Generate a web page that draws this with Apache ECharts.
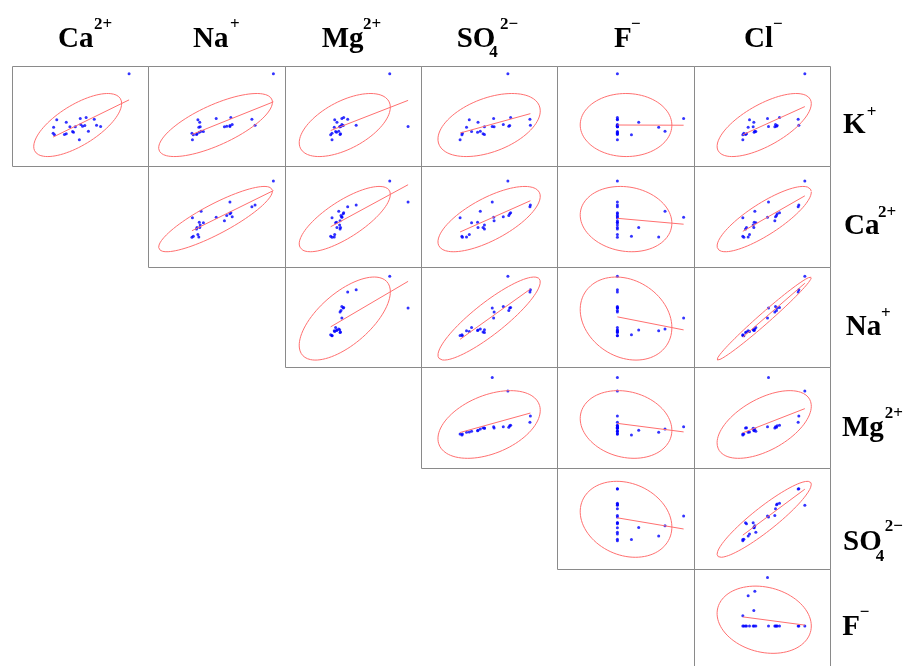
<!DOCTYPE html>
<html>
<head>
<meta charset="utf-8">
<script src="https://cdn.jsdelivr.net/npm/echarts@6/dist/echarts.min.js"></script>
<style>
  html, body { margin: 0; padding: 0; background: #fff; overflow: hidden; }
  #chart { width: 913px; height: 670px; }
</style>
</head>
<body>
<div id="chart"></div>
<script>
// 22 water samples, one value per ion (no axis units shown)
const K   = [21.0, 5.6, 7.4, 7.9, 5.5, 5.3, 5.8, 5.1, 5.2, 7.6, 3.7, 3.8, 3.5, 6.5, 5.1, 7.2, 5.0, 3.0, 2.8, 3.2, 2.7, 1.2];
const Ca  = [92.5, 56.5, 54, 45, 43.5, 41, 39, 33, 61, 38.5, 30, 47.5, 31, 23, 27, 12.5, 9, 23, 21, 8.5, 10, 37.5];
const Na  = [190, 150, 143, 97, 95, 88, 100, 83, 95, 65, 37, 32, 28, 29, 30, 25, 27, 23, 22, 12, 15, 13];
const Mg  = [72, 34.5, 25, 20.5, 20, 17.5, 18.5, 16.5, 92.5, 18.5, 11.5, 15, 12.5, 13, 16, 10.5, 10, 17, 16.5, 7.5, 6, 7.5];
const SO4 = [114, 163, 162, 120, 118, 116, 104, 84, 80, 83, 35, 54, 48, 49, 63, 30, 24, 60, 63, 15, 14, 10];
const F   = [0.1, 0.1, 0.1, 0.1, 0.1, 0.1, 0.1, 0.1, 0.1, 1.56, 0.1, 1.15, 0.1, 0.57, 0.1, 0.1, 1.01, 0.1, 0.1, 0.1, 0.41, 0.1];
const Cl  = [211, 193, 191, 135, 128, 126, 123, 121, 102, 99, 64, 61, 59, 58, 56, 45, 41, 36, 33, 28, 25, 25];

// axis ranges per ion
const rangeK = [-6.8, 23.2];
const rangeCa = [-36.5, 114];
const rangeNa = [-83, 216.5];
const rangeMg = [-44.5, 107.5];
const rangeSO4 = [-74, 222];
const rangeF = [-1.22, 1.8];
const rangeCl = [-120, 288];

// rows = y variable, columns = x variable
const rowVars = [K, Ca, Na, Mg, SO4, F];
const colVars = [Ca, Na, Mg, SO4, F, Cl];
const rowRanges = [rangeK, rangeCa, rangeNa, rangeMg, rangeSO4, rangeF];
const colRanges = [rangeCa, rangeNa, rangeMg, rangeSO4, rangeF, rangeCl];

// labels: [main, subscript, superscript]
const colLabels = [['Ca', '', '2+'], ['Na', '', '+'], ['Mg', '', '2+'], ['SO', '4', '2\u2212'], ['F', '', '\u2212'], ['Cl', '', '\u2212']];
const rowLabels = [['K', '', '+'], ['Ca', '', '2+'], ['Na', '', '+'], ['Mg', '', '2+'], ['SO', '4', '2\u2212'], ['F', '', '\u2212']];

const CHI2_95 = 5.991;

// layout
const colEdges = [12, 148, 285, 421, 557, 694, 830];
const rowEdges = [66, 166, 267, 367, 468, 569, 670];
const CHART_W = 913, CHART_H = 670;

function stats(xs, ys) {
  const n = xs.length;
  let mx = 0, my = 0;
  for (let i = 0; i < n; i++) { mx += xs[i]; my += ys[i]; }
  mx /= n; my /= n;
  let sxx = 0, syy = 0, sxy = 0;
  for (let i = 0; i < n; i++) {
    const dx = xs[i] - mx, dy = ys[i] - my;
    sxx += dx * dx; syy += dy * dy; sxy += dx * dy;
  }
  return { mx, my, sxx: sxx / (n - 1), syy: syy / (n - 1), sxy: sxy / (n - 1) };
}

// 95% ellipse from the sample covariance
function ellipsePoints(s) {
  const T = s.sxx + s.syy, D = s.sxx * s.syy - s.sxy * s.sxy;
  const r = Math.sqrt(Math.max(T * T / 4 - D, 0));
  const l1 = T / 2 + r, l2 = Math.max(T / 2 - r, 0);
  const th = 0.5 * Math.atan2(2 * s.sxy, s.sxx - s.syy);
  const a = Math.sqrt(CHI2_95 * l1), b = Math.sqrt(CHI2_95 * l2);
  const pts = [];
  for (let k = 0; k <= 180; k++) {
    const t = k / 180 * Math.PI * 2;
    const u = a * Math.cos(t), v = b * Math.sin(t);
    pts.push([s.mx + u * Math.cos(th) - v * Math.sin(th), s.my + u * Math.sin(th) + v * Math.cos(th)]);
  }
  return pts;
}

// least squares line y on x, drawn over the data's x span
function fitLine(xs, ys, s) {
  const b = s.sxy / s.sxx, a = s.my - b * s.mx;
  const x0 = Math.min(...xs), x1 = Math.max(...xs);
  return [[x0, a + b * x0], [x1, a + b * x1]];
}

const grids = [], xAxes = [], yAxes = [], series = [];
let g = 0;
for (let i = 0; i < 6; i++) {
  for (let j = i; j < 6; j++) {
    const xs = colVars[j], ys = rowVars[i];
    grids.push({
      left: colEdges[j] + 0.5, top: rowEdges[i] + 0.5,
      width: colEdges[j + 1] - colEdges[j], height: rowEdges[i + 1] - rowEdges[i],
      show: true, borderColor: '#8a8a8a', borderWidth: 1, backgroundColor: 'transparent'
    });
    xAxes.push({ gridIndex: g, type: 'value', min: colRanges[j][0], max: colRanges[j][1], show: false });
    yAxes.push({ gridIndex: g, type: 'value', min: rowRanges[i][0], max: rowRanges[i][1], show: false });
    const s = stats(xs, ys);
    series.push({
      type: 'line', xAxisIndex: g, yAxisIndex: g, data: ellipsePoints(s),
      showSymbol: false, symbol: 'none', smooth: false, silent: true,
      lineStyle: { color: '#ff7070', width: 1 }
    });
    series.push({
      type: 'line', xAxisIndex: g, yAxisIndex: g, data: fitLine(xs, ys, s),
      showSymbol: false, symbol: 'none', silent: true,
      lineStyle: { color: '#ff7070', width: 1 }
    });
    series.push({
      type: 'scatter', xAxisIndex: g, yAxisIndex: g,
      data: xs.map((x, k) => [x, ys[k]]),
      symbolSize: 3, itemStyle: { color: '#0000ff' }
    });
    g++;
  }
}

// formula-style labels built from text pieces
const FONT = '"Liberation Serif", "Times New Roman", serif';
function piece(text, x, baseline, size) {
  return {
    type: 'text', x: x, y: baseline - 0.34 * size, silent: true,
    style: { text: text, font: 'bold ' + size + 'px ' + FONT, fill: '#000', align: 'left', verticalAlign: 'middle' }
  };
}
const graphics = [];
// column headers: [main x, sub x, sup x]
const colPos = [[58, 0, 94], [193, 0, 230], [321.7, 0, 363], [456.7, 489.3, 500], [614, 0, 631], [744, 0, 773]];
colLabels.forEach((lb, j) => {
  const p = colPos[j];
  graphics.push(piece(lb[0], p[0], 49, 29));
  if (lb[1]) graphics.push(piece(lb[1], p[1], 58, 17));
  graphics.push(piece(lb[2], p[2], 30, 17));
});
// row labels: [main x, main baseline, sub x, sup x, sup baseline]
const rowPos = [[843, 135, 0, 866.7, 118], [844, 236.7, 0, 878, 218], [845.7, 337, 0, 881, 319],
                [842, 438.7, 0, 884.7, 419], [843, 552, 875.7, 884.7, 532], [842.3, 637, 0, 859.7, 618]];
rowLabels.forEach((lb, i) => {
  const p = rowPos[i];
  graphics.push(piece(lb[0], p[0], p[1], 29));
  if (lb[1]) graphics.push(piece(lb[1], p[2], p[1] + 10, 17));
  graphics.push(piece(lb[2], p[3], p[4], 17));
});

const chart = echarts.init(document.getElementById('chart'), null, { renderer: 'canvas', width: CHART_W, height: CHART_H });
chart.setOption({
  animation: false,
  backgroundColor: '#fff',
  grid: grids,
  xAxis: xAxes,
  yAxis: yAxes,
  series: series,
  graphic: graphics
});
</script>
</body>
</html>
